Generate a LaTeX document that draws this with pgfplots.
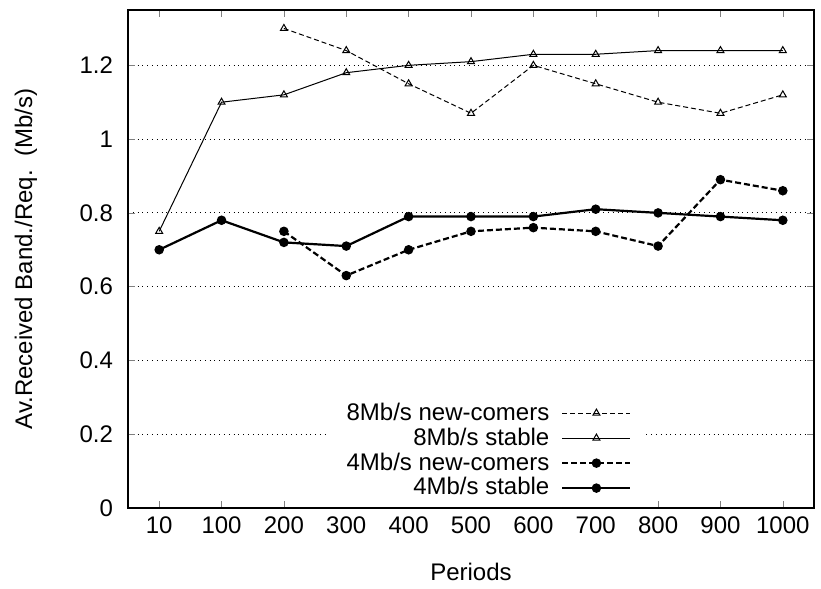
\documentclass[border=0pt]{standalone}
\usepackage{fontspec}
\setmainfont{Liberation Sans}
\usepackage{pgfplots}
\pgfplotsset{compat=1.18}

\begin{document}
\fontsize{12}{14}\selectfont
\begin{tikzpicture}
\begin{axis}[
  name=ax,
  width=343pt, height=249pt, scale only axis,
  xmin=-0.5, xmax=10.5, ymin=0, ymax=1.35,
  xtick={0,...,10},
  xticklabels={10,100,200,300,400,500,600,700,800,900,1000},
  ytick={0,0.2,...,1.2},
  yticklabels={0,0.2,0.4,0.6,0.8,1,1.2},
  tick align=inside, major tick length=3.5pt,
  xtick pos=both, ytick pos=both,
  ymajorgrids, major grid style={black, dotted, line width=0.4pt},
  axis line style={line width=0.9pt},
  /pgf/number format/assume math mode=true,
  ticklabel style={font=\fontsize{12}{14}\selectfont},
  yticklabel style={xshift=-3.3pt},
  xlabel={Periods}, ylabel={Av.Received Band./Req.\ \ (Mb/s)},
  label style={font=\fontsize{12}{14}\selectfont},
  xlabel style={at={(axis description cs:0.5,-0.1285)}, anchor=center},
  ylabel style={at={(axis description cs:-0.1487,0.5)}, anchor=center},
  legend cell align=right,
  legend plot pos=right,
  legend style={at={(axis description cs:0.755,0.002)}, anchor=south east, draw=none, fill=white,
    font=\fontsize{12}{14}\selectfont, row sep=-2pt, column sep=4pt, inner xsep=7pt, inner ysep=2pt},
  legend image code/.code={
    \draw[mark repeat=2, mark phase=2, #1] plot coordinates {(0pt,0pt) (17pt,0pt) (34pt,0pt)};},
]
\addplot[black, line width=0.5pt, dash pattern=on 2.5pt off 1.5pt, mark=triangle, mark size=2pt, mark options={solid}]
  coordinates {(2,1.30) (3,1.24) (4,1.15) (5,1.07) (6,1.20) (7,1.15) (8,1.10) (9,1.07) (10,1.12)};
\addlegendentry{8Mb/s new-comers}
\addplot[black, line width=0.5pt, mark=triangle, mark size=2pt]
  coordinates {(0,0.75) (1,1.10) (2,1.12) (3,1.18) (4,1.20) (5,1.21) (6,1.23) (7,1.23) (8,1.24) (9,1.24) (10,1.24)};
\addlegendentry{8Mb/s stable}
\addplot[black, line width=1.1pt, dash pattern=on 3pt off 1.5pt, mark=*, mark size=1.8pt, mark options={solid}]
  coordinates {(2,0.75) (3,0.63) (4,0.70) (5,0.75) (6,0.76) (7,0.75) (8,0.71) (9,0.89) (10,0.86)};
\addlegendentry{4Mb/s new-comers}
\addplot[black, line width=1.1pt, mark=*, mark size=1.8pt]
  coordinates {(0,0.70) (1,0.78) (2,0.72) (3,0.71) (4,0.79) (5,0.79) (6,0.79) (7,0.81) (8,0.80) (9,0.79) (10,0.78)};
\addlegendentry{4Mb/s stable}
\end{axis}
\path ([xshift=-64pt,yshift=-39pt]ax.south west) ([xshift=3.5pt,yshift=5pt]ax.north east);
\end{tikzpicture}
\end{document}
